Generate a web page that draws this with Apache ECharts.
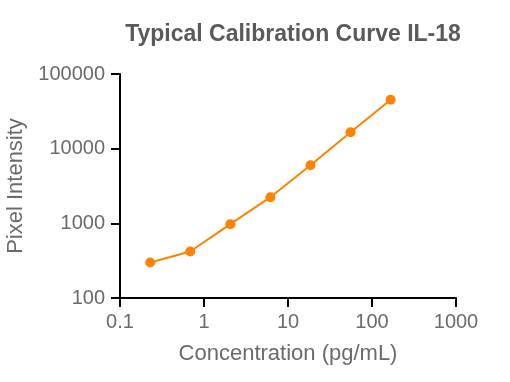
<!DOCTYPE html>
<html>
<head>
<meta charset="utf-8">
<script src="https://cdn.jsdelivr.net/npm/echarts@6/dist/echarts.min.js"></script>
<style>html,body{margin:0;padding:0;background:#fff}#c{width:510px;height:382px}</style>
</head>
<body>
<div id="c"></div>
<script>
var concentrations = [0.229, 0.686, 2.06, 6.17, 18.5, 55.6, 166.7];
var intensities = [299, 420, 975, 2240, 6010, 16600, 45100];
var xTicks = [0.1, 1, 10, 100, 1000];
var yTicks = [100, 1000, 10000, 100000];

var font = 'Liberation Sans, Arial, Helvetica, sans-serif';
var chart = echarts.init(document.getElementById('c'));
chart.setOption({
  animation: false,
  title: {
    text: 'Typical Calibration Curve IL-18',
    left: 288, top: 18, textAlign: 'center',
    textStyle: {fontFamily: font, fontSize: 23, fontWeight: 'bold', color: '#5a5a5a'}
  },
  grid: {left: 120, right: 54, top: 74, bottom: 84, outerBoundsMode: 'none', containLabel: false},
  xAxis: {
    type: 'log', logBase: 10, min: xTicks[0], max: xTicks[xTicks.length - 1],
    name: 'Concentration (pg/mL)', nameLocation: 'middle', nameGap: 45,
    nameTextStyle: {fontFamily: font, fontSize: 22, color: '#6b6b6b'},
    axisLine: {lineStyle: {color: '#000', width: 2}},
    axisTick: {show: true, length: 9, lineStyle: {color: '#000', width: 2}},
    minorTick: {show: false},
    splitLine: {show: false},
    axisLabel: {fontFamily: font, fontSize: 20, color: '#6b6b6b', margin: 14,
      formatter: function (v) { return String(Number(v.toPrecision(6))); }}
  },
  yAxis: {
    type: 'log', logBase: 10, min: yTicks[0], max: yTicks[yTicks.length - 1],
    name: 'Pixel Intensity', nameLocation: 'middle', nameGap: 92,
    nameTextStyle: {fontFamily: font, fontSize: 22, color: '#6b6b6b'},
    axisLine: {lineStyle: {color: '#000', width: 2}},
    axisTick: {show: true, length: 9, lineStyle: {color: '#000', width: 2}},
    splitLine: {show: false},
    axisLabel: {fontFamily: font, fontSize: 20, color: '#6b6b6b', margin: 15,
      formatter: function (v) { return String(Math.round(v)); }}
  },
  series: [{
    type: 'line',
    data: concentrations.map(function (c, i) { return [c, intensities[i]]; }),
    symbol: 'circle', symbolSize: 10,
    itemStyle: {color: '#ff8200'},
    lineStyle: {color: '#ff8200', width: 2}
  }]
});
</script>
</body>
</html>
